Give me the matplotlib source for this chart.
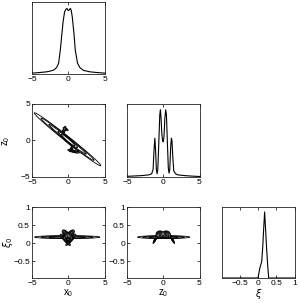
import numpy as np
import matplotlib
matplotlib.use('Agg')
import matplotlib.pyplot as plt

# 1D marginals (heights as fraction of panel height)
x0_grid = [-5, -4, -3, -2.5, -2, -1.6, -1.33, -1.1, -0.87, -0.7, -0.5, -0.3, -0.18,
           -0.05, 0.05, 0.15, 0.28, 0.4, 0.55, 0.8, 0.97, 1.28, 1.6, 2.1, 3, 4, 5]
x0_dens = [0.012, 0.02, 0.03, 0.04, 0.055, 0.09, 0.15, 0.33, 0.57, 0.74, 0.87, 0.905, 0.915,
           0.89, 0.885, 0.895, 0.915, 0.89, 0.8, 0.55, 0.33, 0.15, 0.09, 0.05, 0.03, 0.02, 0.012]

z0_grid = [-5, -4, -3, -2, -1.6, -1.4, -1.28, -1.16, -1.05, -0.95, -0.85, -0.75, -0.6, -0.48,
           -0.39, -0.3, -0.2, -0.1, 0, 0.1, 0.22, 0.34, 0.44, 0.56, 0.7, 0.8, 0.9, 1.02, 1.12,
           1.2, 1.3, 1.45, 1.7, 2, 3, 4, 5]
z0_dens = [0.005, 0.01, 0.015, 0.025, 0.04, 0.1, 0.35, 0.53, 0.35, 0.1, 0.04, 0.1, 0.5, 0.85,
           0.92, 0.8, 0.6, 0.5, 0.48, 0.55, 0.8, 0.92, 0.85, 0.5, 0.12, 0.05, 0.1, 0.4, 0.53,
           0.5, 0.3, 0.08, 0.04, 0.025, 0.015, 0.008, 0.003]

xi_grid = [-0.97, -0.1, 0, 0.05, 0.1, 0.13, 0.155, 0.18, 0.205, 0.23, 0.26, 0.29, 0.4, 1]
xi_dens = [0, 0, 0, 0.14, 0.23, 0.45, 0.7, 0.93, 0.7, 0.45, 0.2, 0, 0, 0]

# 2D densities: blob components (cx, cy, s_along, s_perp, angle_deg, amp)
xz_comps = [(-0.1, 0.15, 2.6, 0.16, -38.4, 1.0),
            (0.0, 0.0, 0.75, 0.11, -42, 2.5),
            (-0.6, 1.35, 0.3, 0.08, 70, 0.7),
            (-0.35, 1.55, 0.2, 0.07, -30, 0.5),
            (0.7, -1.5, 0.4, 0.08, -15, 0.6),
            (0.45, -1.1, 0.25, 0.07, 60, 0.5)]
xxi_comps = [(-0.15, 0.165, 2.0, 0.018, 0, 1.0),
             (-0.4, 0.09, 0.3, 0.025, -12, 1.3),
             (0.35, 0.09, 0.3, 0.025, 12, 1.3),
             (-0.3, 0.25, 0.22, 0.035, -8, 1.8),
             (0.3, 0.25, 0.22, 0.035, 8, 1.8)]
zxi_comps = [(0.05, 0.165, 1.6, 0.018, 0, 1.0),
             (-0.45, 0.25, 0.22, 0.035, 0, 1.8),
             (0.4, 0.25, 0.22, 0.035, 0, 1.8),
             (-1.05, 0.12, 0.18, 0.02, 19, 0.8),
             (1.2, 0.12, 0.18, 0.02, -19, 0.8)]
levels = [0.08, 0.2, 0.45, 0.9, 1.5]


def density(X, Y, comps):
    Z = np.zeros_like(X)
    for cx, cy, s1, s2, ang, amp in comps:
        t = np.deg2rad(ang)
        dx, dy = X - cx, Y - cy
        u = dx * np.cos(t) + dy * np.sin(t)
        v = -dx * np.sin(t) + dy * np.cos(t)
        Z += amp * np.exp(-0.5 * (u ** 2 / s1 ** 2 + v ** 2 / s2 ** 2))
    return Z


plt.rcParams['font.family'] = ['Liberation Sans', 'DejaVu Sans']
plt.rcParams['mathtext.fontset'] = 'dejavusans'

fig = plt.figure(figsize=(3.0, 3.03), dpi=100)

cols = [0.1067, 0.4233, 0.741]
w = 0.2417
rows = [(0.7558, 0.2366), (0.4168, 0.240), (0.0825, 0.2343)]


def style(ax, yticks=True):
    ax.tick_params(direction='in', length=2.5, width=0.5, labelsize=6, pad=1.5,
                   top=True, right=yticks, left=yticks)
    for s in ax.spines.values():
        s.set_linewidth(0.6)
        s.set_color('#222222')


xi_lim = (-0.97, 1)
xs = np.linspace(-5, 5, 600)
xis = np.linspace(-1, 1, 600)

# top-left: x0 marginal
ax = fig.add_axes([cols[0], rows[0][0], w, rows[0][1]])
ax.plot(x0_grid, x0_dens, color='k', lw=0.8)
ax.set_xlim(-5, 5)
ax.set_ylim(0, 1)
ax.set_xticks([-5, 0, 5])
ax.set_yticks([])
style(ax, yticks=False)

# middle-left: x0 vs z0
ax = fig.add_axes([cols[0], rows[1][0], w, rows[1][1]])
X, Y = np.meshgrid(xs, xs)
ax.contour(X, Y, density(X, Y, xz_comps), levels=levels, colors='k', linewidths=0.6)
ax.set_xlim(-5, 5)
ax.set_ylim(-5, 5)
ax.set_xticks([-5, 0, 5])
ax.set_yticks([-5, 0, 5])
ax.set_ylabel(r'$\mathregular{z_0}$', fontsize=7)
ax.yaxis.set_label_coords(-0.28, 0.5)
style(ax)

# middle-middle: z0 marginal
ax = fig.add_axes([cols[1], rows[1][0], w, rows[1][1]])
ax.plot(z0_grid, z0_dens, color='k', lw=0.8)
ax.set_xlim(-5, 5)
ax.set_ylim(0, 1)
ax.set_xticks([-5, 0, 5])
ax.set_yticks([])
style(ax, yticks=False)

# bottom-left: x0 vs xi
ax = fig.add_axes([cols[0], rows[2][0], w, rows[2][1]])
X, Y = np.meshgrid(xs, xis)
ax.contour(X, Y, density(X, Y, xxi_comps), levels=levels, colors='k', linewidths=0.6)
ax.set_xlim(-5, 5)
ax.set_ylim(*xi_lim)
ax.set_xticks([-5, 0, 5])
ax.set_yticks([-0.5, 0, 0.5, 1])
ax.set_yticklabels(['\u22120.5', '0', '0.5', '1'])
ax.set_xlabel(r'$\mathregular{x_0}$', fontsize=7, labelpad=0)
ax.set_ylabel(r'$\xi_0$', fontsize=7)
ax.yaxis.set_label_coords(-0.23, 0.5)
style(ax)

# bottom-middle: z0 vs xi
ax = fig.add_axes([cols[1], rows[2][0], w, rows[2][1]])
ax.contour(X, Y, density(X, Y, zxi_comps), levels=levels, colors='k', linewidths=0.6)
ax.set_xlim(-5, 5)
ax.set_ylim(*xi_lim)
ax.set_xticks([-5, 0, 5])
ax.set_yticks([-0.5, 0, 0.5, 1])
ax.set_yticklabels(['\u22120.5', '0', '0.5', '1'])
ax.set_xlabel(r'$\mathregular{z_0}$', fontsize=7, labelpad=0)
style(ax)

# bottom-right: xi marginal
ax = fig.add_axes([cols[2], rows[2][0], w, rows[2][1]])
ax.plot(xi_grid, xi_dens, color='k', lw=0.8)
ax.set_xlim(*xi_lim)
ax.set_ylim(0, 1)
ax.set_xticks([-0.5, 0, 0.5, 1])
ax.set_xticklabels(['\u22120.5', '0', '0.5', '1'])
ax.set_yticks([])
ax.set_xlabel(r'$\xi$', fontsize=7, labelpad=0)
style(ax, yticks=False)

fig.savefig('out.png', dpi=100)
